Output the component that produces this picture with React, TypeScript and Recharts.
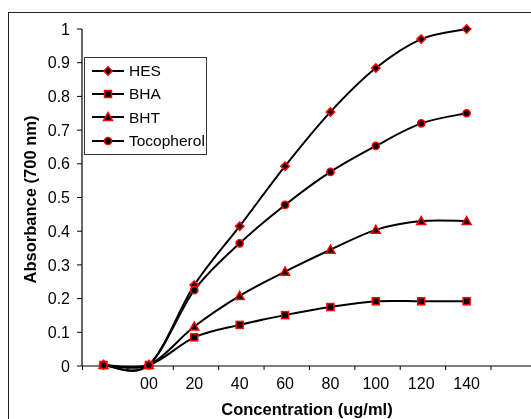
import React from "react";
import { Legend, Line, LineChart, XAxis, YAxis } from "recharts";

const FONT = "Arial, 'Liberation Sans', sans-serif";

// x categories (first and last slot have no label)
const concLabels = ["", "00", "20", "40", "60", "80", "100", "120", "140", ""];
const hes = [0.003, 0.003, 0.24, 0.415, 0.593, 0.754, 0.884, 0.97, 1.0, null];
const bha = [0.003, 0.003, 0.085, 0.122, 0.151, 0.175, 0.192, 0.192, 0.192, null];
const bht = [0.003, 0.003, 0.117, 0.208, 0.28, 0.345, 0.404, 0.43, 0.43, null];
const toco = [0.003, 0.003, 0.225, 0.364, 0.478, 0.576, 0.653, 0.72, 0.75, null];
const yTicks = [0, 0.1, 0.2, 0.3, 0.4, 0.5, 0.6, 0.7, 0.8, 0.9, 1];

const data = concLabels.map((_, i) => ({
  idx: i,
  HES: hes[i],
  BHA: bha[i],
  BHT: bht[i],
  Tocopherol: toco[i],
}));

type Shape = "diamond" | "square" | "triangle" | "circle";

const series: Array<{ key: string; shape: Shape }> = [
  { key: "HES", shape: "diamond" },
  { key: "BHA", shape: "square" },
  { key: "BHT", shape: "triangle" },
  { key: "Tocopherol", shape: "circle" },
];

// Excel-like smoothed line (Catmull-Rom through the points)
function excelCurve(context: any) {
  let pts: number[][] = [];
  const flush = () => {
    if (!pts.length) return;
    context.moveTo(pts[0][0], pts[0][1]);
    for (let i = 0; i < pts.length - 1; i++) {
      const p0 = pts[i - 1] || pts[i];
      const p1 = pts[i];
      const p2 = pts[i + 1];
      const p3 = pts[i + 2] || p2;
      context.bezierCurveTo(
        p1[0] + (p2[0] - p0[0]) / 6,
        p1[1] + (p2[1] - p0[1]) / 6,
        p2[0] - (p3[0] - p1[0]) / 6,
        p2[1] - (p3[1] - p1[1]) / 6,
        p2[0],
        p2[1]
      );
    }
  };
  return {
    areaStart() {},
    areaEnd() {},
    lineStart() {
      pts = [];
    },
    lineEnd() {
      flush();
      pts = [];
    },
    point(x: number, y: number) {
      pts.push([+x, +y]);
    },
  };
}

function Marker({ shape, cx, cy }: { shape: Shape; cx: number; cy: number }) {
  const common = { fill: "#000", stroke: "#ff0000", strokeWidth: 1.5 };
  if (shape === "diamond")
    return <path d={`M${cx},${cy - 4.2}L${cx + 4.2},${cy}L${cx},${cy + 4.2}L${cx - 4.2},${cy}Z`} {...common} />;
  if (shape === "square") return <rect x={cx - 3.5} y={cy - 3.5} width={7} height={7} {...common} />;
  if (shape === "triangle")
    return <path d={`M${cx},${cy - 4.5}L${cx + 4.5},${cy + 3.5}L${cx - 4.5},${cy + 3.5}Z`} {...common} />;
  return <circle cx={cx} cy={cy} r={3.6} {...common} />;
}

const TICK_SIZE = 4;
const TICK_MARGIN = 8;
const TICK_SHIFT = 21; // tick marks sit between categories

function XTick(props: any) {
  const { x, y, payload } = props;
  const axisY = y - TICK_SIZE - TICK_MARGIN;
  return (
    <g>
      <line x1={x - TICK_SHIFT} x2={x - TICK_SHIFT} y1={axisY} y2={axisY + TICK_SIZE} stroke="#000" />
      <text x={x} y={y} dy="0.71em" textAnchor="middle" fontFamily={FONT} fontSize={16} fill="#000">
        {concLabels[payload.value]}
      </text>
    </g>
  );
}

function LegendBox() {
  return (
    <div
      style={{
        border: "1px solid #333",
        background: "#fff",
        width: 121,
        height: 95,
        paddingTop: 1,
        boxSizing: "content-box",
        fontFamily: FONT,
        fontSize: 15.5,
        color: "#000",
      }}
    >
      {series.map((s) => (
        <div key={s.key} style={{ display: "flex", alignItems: "center", height: 23.4 }}>
          <svg width={40} height={14} style={{ flex: "none" }}>
            <line x1={7} x2={39} y1={7} y2={7} stroke="#000" strokeWidth={2} />
            <Marker shape={s.shape} cx={23} cy={7} />
          </svg>
          <span style={{ marginLeft: 4, lineHeight: 1 }}>{s.key}</span>
        </div>
      ))}
    </div>
  );
}

export default function App() {
  return (
    <div style={{ position: "fixed", left: 8, top: 8, width: 524, height: 411 }}>
      <div
        style={{
          position: "absolute",
          left: 0,
          top: 4,
          width: 524,
          height: 407,
          borderTop: "1.5px solid #222",
          borderLeft: "1.5px solid #222",
          boxSizing: "border-box",
        }}
      />
      <LineChart
        width={524}
        height={411}
        data={data}
        margin={{ top: 21, right: 0, bottom: 0, left: 0 }}
        style={{ position: "absolute", left: 0, top: 0 }}
      >
        <XAxis
          dataKey="idx"
          type="category"
          height={53}
          padding={{ left: 21.5, right: 20 }}
          axisLine={{ stroke: "#000", strokeWidth: 1.2 }}
          tickLine={false}
          tickSize={TICK_SIZE}
          tickMargin={TICK_MARGIN}
          interval={0}
          tick={<XTick />}
          label={{
            content: ({ viewBox }: any) => (
              <text
                x={viewBox.x + viewBox.width / 2}
                y={401}
                textAnchor="middle"
                dominantBaseline="central"
                fontFamily={FONT}
                fontSize={16.5}
                fontWeight="bold"
                fill="#000"
              >
                Concentration (ug/ml)
              </text>
            ),
          }}
        />
        <YAxis
          width={74}
          domain={[0, 1]}
          ticks={yTicks}
          interval={0}
          axisLine={{ stroke: "#000", strokeWidth: 1.2 }}
          tickLine={{ stroke: "#000" }}
          tickSize={5}
          tickMargin={7}
          tick={{ fontFamily: FONT, fontSize: 16, fill: "#000" }}
          label={{
            content: ({ viewBox }: any) => {
              const cx = 22;
              const cy = viewBox.y + viewBox.height / 2 + 2;
              return (
                <text
                  x={cx}
                  y={cy}
                  transform={`rotate(-90 ${cx} ${cy})`}
                  textAnchor="middle"
                  dominantBaseline="central"
                  fontFamily={FONT}
                  fontSize={16.5}
                  fontWeight="bold"
                  fill="#000"
                >
                  Absorbance (700 nm)
                </text>
              );
            },
          }}
        />
        <Legend
          layout="vertical"
          align="center"
          verticalAlign="middle"
          content={() => <LegendBox />}
          wrapperStyle={{ position: "absolute", left: 76, top: 49, width: "auto" }}
        />
        {series.map((s) => (
          <Line
            key={s.key}
            dataKey={s.key}
            type={excelCurve as any}
            stroke="#000"
            strokeWidth={2}
            isAnimationActive={false}
            dot={(p: any) =>
              p.cy == null ? (
                <g key={`${s.key}-${p.index}`} />
              ) : (
                <g key={`${s.key}-${p.index}`}>
                  <Marker shape={s.shape} cx={p.cx} cy={p.cy} />
                </g>
              )
            }
          />
        ))}
      </LineChart>
    </div>
  );
}
